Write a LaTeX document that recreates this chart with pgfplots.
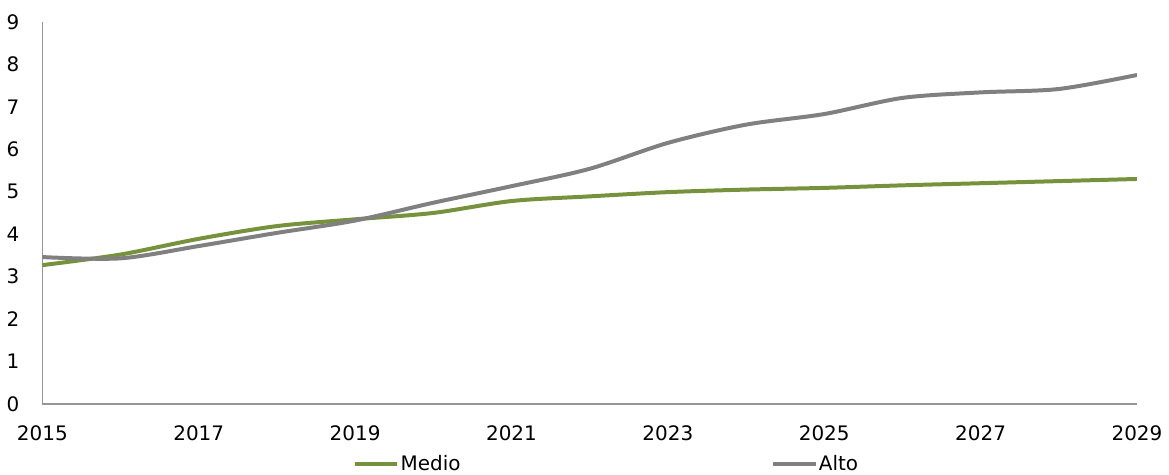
\documentclass[border=0pt]{standalone}
\usepackage{fontspec}
\setmainfont{DejaVu Sans}
\usepackage{pgfplots}
\pgfplotsset{compat=1.18}
\definecolor{medio}{RGB}{118,146,60}
\definecolor{alto}{RGB}{128,128,128}
\definecolor{axisgray}{RGB}{150,150,150}
\begin{document}
\begin{tikzpicture}
\begin{axis}[
  scale only axis,
  width=548.75pt, height=191.5pt,
  xmin=2015, xmax=2029, ymin=0, ymax=9,
  xtick={2015,2017,...,2029},
  ytick={0,1,...,9},
  axis x line*=bottom, axis y line*=left,
  axis line style={draw=axisgray, line width=0.7pt, -},
  major tick length=0pt,
  tick style={draw=none},
  xticklabel shift=7.5pt,
  yticklabel shift=8pt,
  /pgf/number format/1000 sep={},
  /pgf/number format/assume math mode=true,
  tick label style={font=\fontsize{10}{12}\selectfont},
  legend columns=2,
  legend style={draw=none, fill=none, at={(0.283,0)}, anchor=north west,
    yshift=-25pt, font=\fontsize{10}{12}\selectfont, inner sep=0pt,
    /tikz/column 2/.style={column sep=155pt},
    nodes={inner sep=0.6pt}},
  legend image code/.code={\draw[#1, line width=2pt] (0pt,0pt) -- (21.5pt,0pt);},
  after end axis/.code={\path (rel axis cs:0,1) ++(0pt,11pt);},
]
\addplot[medio, line width=2pt, smooth, tension=0.5] coordinates {
(2015,3.27) (2016,3.52) (2017,3.89) (2018,4.19) (2019,4.35) (2020,4.50)
(2021,4.78) (2022,4.89) (2023,4.99) (2024,5.05) (2025,5.09) (2026,5.15)
(2027,5.20) (2028,5.25) (2029,5.30)};
\addlegendentry{Medio}
\addplot[alto, line width=2pt, smooth, tension=0.5] coordinates {
(2015,3.46) (2016,3.43) (2017,3.72) (2018,4.03) (2019,4.32) (2020,4.74)
(2021,5.13) (2022,5.54) (2023,6.15) (2024,6.58) (2025,6.83) (2026,7.21)
(2027,7.34) (2028,7.42) (2029,7.75)};
\addlegendentry{Alto}
\end{axis}
\end{tikzpicture}
\end{document}
